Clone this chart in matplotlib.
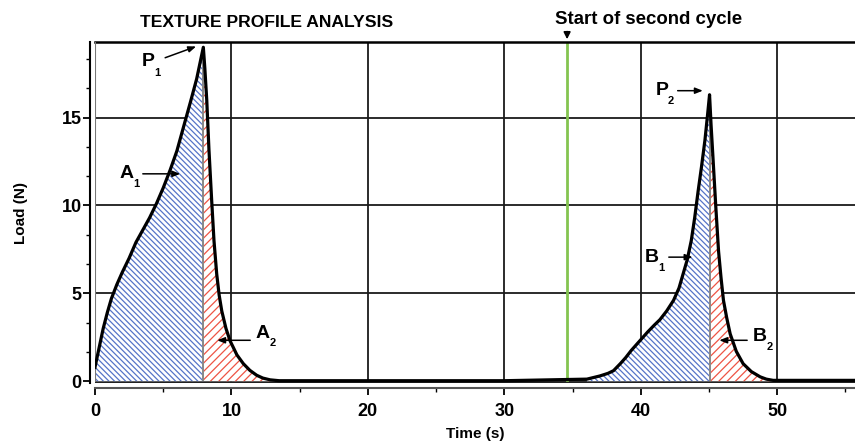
import matplotlib
matplotlib.use("Agg")
import matplotlib.pyplot as plt
import matplotlib.ticker as ticker
import numpy as np

# Texture profile analysis curve
time_s = [0, 0.3, 0.6, 0.9, 1.2, 1.6, 2.0, 2.5, 3.0, 3.5, 4.0, 4.5, 5.0, 5.5, 6.0, 6.5, 7.0,
          7.45, 7.94,
          8.05, 8.19, 8.35, 8.55, 8.72, 8.92, 9.1, 9.29, 9.6, 9.9, 10.4, 10.87, 11.35, 11.85,
          12.3, 12.83, 13.5,
          20.0, 30.0,
          36.05, 37.0, 37.6, 38.0, 38.5, 38.9, 39.3, 39.7, 40.5, 41.0, 41.4, 41.9, 42.4, 42.8,
          43.1, 43.4, 43.7, 43.95, 44.2, 44.45, 44.7, 44.9, 45.04,
          45.15, 45.3, 45.5, 45.7, 45.88, 46.06, 46.3, 46.55, 47.0, 47.5, 48.1, 48.75, 49.2,
          49.7, 55.7]
load_n = [0.8, 1.9, 3.0, 3.9, 4.7, 5.5, 6.2, 7.0, 7.9, 8.6, 9.3, 10.1, 11.0, 12.0, 13.1, 14.5,
          15.9, 17.2, 19.0,
          17.8, 16.0, 13.2, 10.3, 8.0, 6.1, 4.9, 4.0, 3.0, 2.3, 1.5, 1.0, 0.62, 0.34,
          0.18, 0.08, 0.03,
          0.03, 0.03,
          0.12, 0.3, 0.45, 0.6, 1.0, 1.35, 1.75, 2.1, 2.8, 3.2, 3.5, 4.0, 4.6, 5.3,
          6.1, 6.9, 8.0, 9.3, 10.8, 12.2, 13.7, 15.2, 16.3,
          14.6, 12.6, 9.9, 7.4, 5.9, 4.6, 3.6, 2.7, 1.7, 1.0, 0.55, 0.25, 0.12,
          0.05, 0.05]

# Area boundaries (s)
a1_range = (0, 7.94)
a2_range = (7.94, 13.5)
b1_range = (36.05, 45.04)
b2_range = (45.04, 49.7)
second_cycle_start = 34.6

XLIM = (0, 55.7)
YLIM = (-0.1, 19.3)

BLUE = "#5674c8"
RED = "#ee5444"
GREEN = "#84c450"
FONT = "Liberation Sans"

plt.rcParams["font.family"] = [FONT, "DejaVu Sans"]
plt.rcParams["font.weight"] = "bold"
plt.rcParams["hatch.linewidth"] = 0.9

W, H = 855, 442
fig = plt.figure(figsize=(W / 100, H / 100), dpi=100)
ax = fig.add_axes([95 / W, 1 - 383 / H, 1 - 95 / W, (383 - 42) / H])
ax.set_xlim(*XLIM)
ax.set_ylim(*YLIM)

t = np.array(time_s)
y = np.array(load_n)


def hatch_area(lo, hi, color, hatch, divider_at):
    m = (t >= lo) & (t <= hi)
    ax.fill_between(t[m], 0, y[m], facecolor="white", edgecolor=color,
                    hatch=hatch, linewidth=0, zorder=1)
    # grey divider at the peak
    ax.vlines(divider_at, 0, np.interp(divider_at, t, y), color="#8a8a8a", lw=1.3, zorder=2)


hatch_area(*a1_range, BLUE, "\\" * 6, a1_range[1])
hatch_area(*a2_range, RED, "/" * 4, a2_range[0])
hatch_area(*b1_range, BLUE, "\\" * 6, b1_range[1])
hatch_area(*b2_range, RED, "/" * 4, b2_range[0])

ax.plot(t, y, color="black", lw=2.3, zorder=5, solid_joinstyle="round")

# grid and inner frame
ax.grid(which="major", color="#1a1a1a", lw=1.3, zorder=0)
ax.set_axisbelow(True)
ax.axvline(0, color="#777777", lw=1.5, zorder=3)
ax.axhline(YLIM[0], color="#222222", lw=1.5, zorder=3)
ax.axvline(second_cycle_start, color=GREEN, lw=2, zorder=2)

ax.spines["right"].set_visible(False)
ax.spines["top"].set_linewidth(1.8)
for side in ("left", "bottom"):
    ax.spines[side].set_position(("outward", 3.6))
    ax.spines[side].set_linewidth(1.5)
ax.spines["bottom"].set_color("#555555")

ax.xaxis.set_major_locator(ticker.MultipleLocator(10))
ax.xaxis.set_minor_locator(ticker.MultipleLocator(5))
ax.yaxis.set_major_locator(ticker.MultipleLocator(5))
ax.yaxis.set_minor_locator(ticker.MultipleLocator(5 / 3))
ax.tick_params(which="major", length=5, width=1.3, labelsize=13)
ax.tick_params(which="minor", length=3, width=1.0)
ax.tick_params(axis="x", which="major", pad=6)
ax.tick_params(axis="y", which="major", pad=1)
for lab in ax.get_xticklabels() + ax.get_yticklabels():
    lab.set_fontweight("bold")

ax.set_xlabel("Time (s)", fontsize=11, fontweight="bold", labelpad=5)
ax.set_ylabel("Load (N)", fontsize=11, fontweight="bold", labelpad=24)

ax.text(12.58, 20.4, "TEXTURE PROFILE ANALYSIS", fontsize=12.6, fontweight="bold",
        ha="center", va="center", clip_on=False)
ax.text(40.6, 20.6, "Start of second cycle", fontsize=13.4, fontweight="bold",
        ha="center", va="center", clip_on=False)
ax.annotate("", xy=(second_cycle_start, YLIM[1]), xytext=(second_cycle_start, 20.05),
            arrowprops=dict(arrowstyle="-|>,head_length=0.4,head_width=0.2", color="black", lw=1.2),
            annotation_clip=False)

arrow_kw = dict(arrowstyle="-|>,head_length=0.45,head_width=0.18", color="black", lw=1.1)
labels = [
    # letter, sub, letter pos, sub pos, arrow start, arrow end
    ("P", "1", (3.9, 18.2), (4.6, 17.55), (4.95, 18.35), (7.6, 19.1)),
    ("A", "1", (2.32, 11.8), (3.0, 11.2), (3.3, 11.8), (6.45, 11.8)),
    ("A", "2", (12.3, 2.73), (13.0, 2.15), (11.58, 2.33), (8.75, 2.33)),
    ("P", "2", (41.55, 16.53), (42.2, 15.95), (42.5, 16.53), (44.75, 16.53)),
    ("B", "1", (40.81, 7.06), (41.5, 6.45), (41.85, 7.06), (44.0, 7.06)),
    ("B", "2", (48.75, 2.52), (49.45, 1.95), (48.0, 2.33), (45.55, 2.33)),
]
for letter, sub, lp, sp, a0, a1 in labels:
    ax.text(*lp, letter, fontsize=14, fontweight="bold", ha="center", va="center", zorder=6)
    ax.text(*sp, sub, fontsize=8, fontweight="bold", ha="center", va="center", zorder=6)
    ax.annotate("", xy=a1, xytext=a0, arrowprops=arrow_kw, zorder=6)

fig.savefig("out.png", dpi=100)
